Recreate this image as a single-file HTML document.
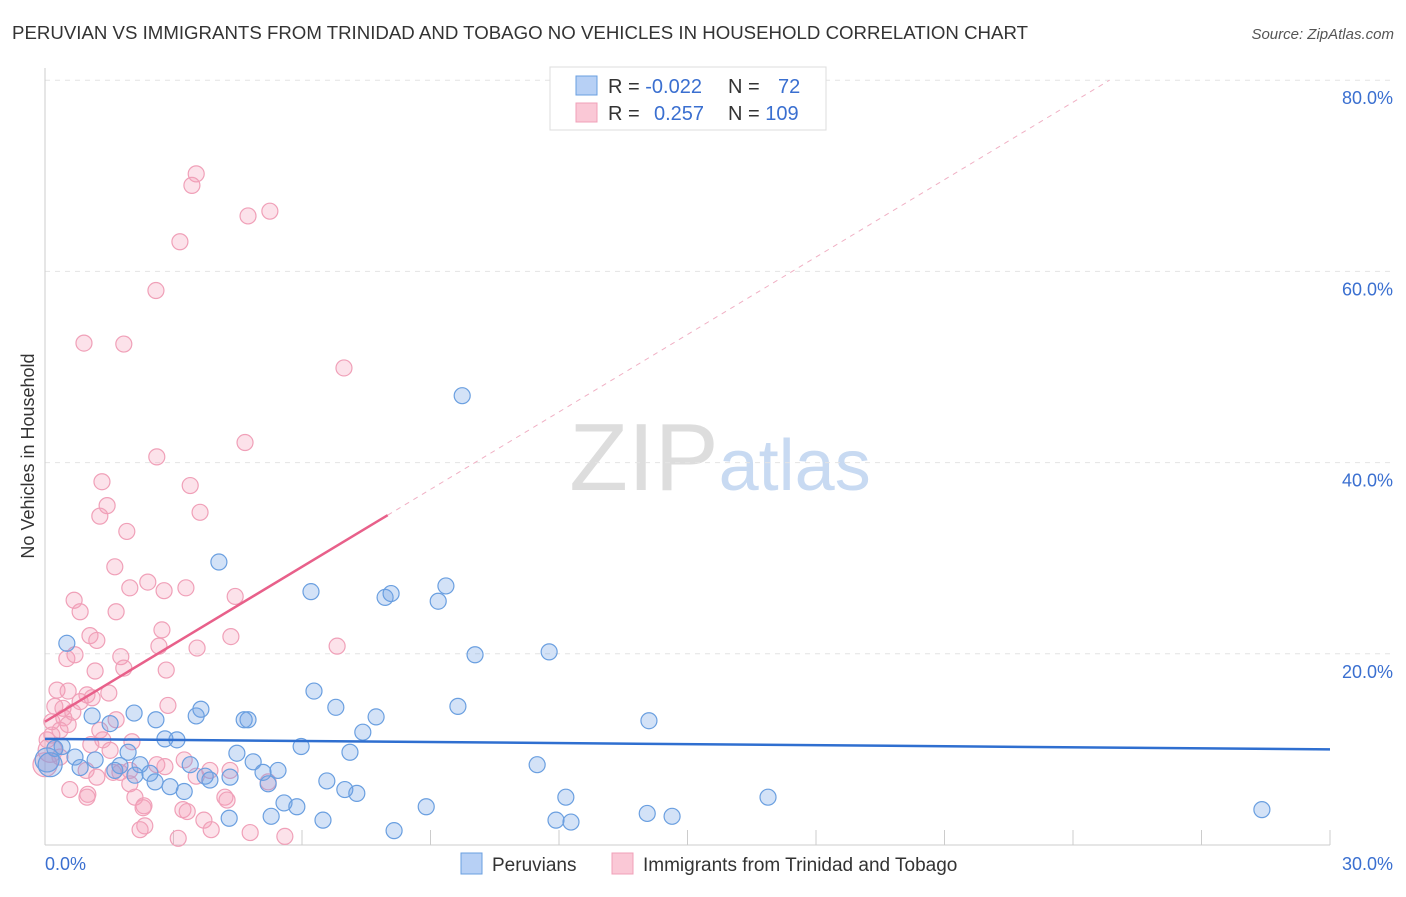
<!DOCTYPE html>
<html><head><meta charset="utf-8"><style>
body{margin:0;background:#fff;font-family:"Liberation Sans",sans-serif}
svg text{font-family:"Liberation Sans",sans-serif}
</style></head><body>
<svg id="chart" width="1406" height="892" xmlns="http://www.w3.org/2000/svg">
<text x="12" y="39" font-size="18.6" fill="#333" textLength="1016" lengthAdjust="spacingAndGlyphs">PERUVIAN VS IMMIGRANTS FROM TRINIDAD AND TOBAGO NO VEHICLES IN HOUSEHOLD CORRELATION CHART</text>
<text x="1394" y="39" font-size="15" fill="#555" font-style="italic" text-anchor="end">Source: ZipAtlas.com</text>
<text transform="translate(34,456) rotate(-90)" font-size="18" fill="#333" text-anchor="middle">No Vehicles in Household</text>
<text x="720" y="490" font-size="96" text-anchor="middle" fill="#ddd" font-family="Liberation Serif">ZIP<tspan fill="#c8daf2" font-family="Liberation Sans" font-size="72">atlas</tspan></text>
<g id="grid"></g><g id="axes"></g><g id="marks"></g>
<g>
<rect x="550" y="67" width="276" height="63" fill="#fff" stroke="#ddd"/>
<rect x="576" y="76" width="21" height="19" fill="#b7d0f5" stroke="#6a9fe0"/>
<rect x="576" y="103" width="21" height="19" fill="#fac8d6" stroke="#f0a0b8"/>
<text x="608" y="93" font-size="20" fill="#333">R = <tspan fill="#3a6fd0">-0.022</tspan></text>
<text x="728" y="93" font-size="20" fill="#333">N = <tspan fill="#3a6fd0" x="778">72</tspan></text>
<text x="608" y="120" font-size="20" fill="#333">R = <tspan fill="#3a6fd0" x="654">0.257</tspan></text>
<text x="728" y="120" font-size="20" fill="#333">N = <tspan fill="#3a6fd0">109</tspan></text>
</g>
<g>
<rect x="461" y="853" width="21" height="21" fill="#b7d0f5" stroke="#6a9fe0"/>
<text x="492" y="871" font-size="19" fill="#333">Peruvians</text>
<rect x="612" y="853" width="21" height="21" fill="#fac8d6" stroke="#f0a0b8"/>
<text x="643" y="871" font-size="19" fill="#333">Immigrants from Trinidad and Tobago</text>
</g>
</svg>
<script>
const xTicks=[3,6,9,12,15,18,21,24,27,30];
const yTicks=[20,40,60,80];
const yTickLabels=["20.0%","40.0%","60.0%","80.0%"];
const blueX=[9.74,4.06,6.21,7.94,8.08,9.36,9.18,10.04,11.77,0.51,6.28,6.79,7.73,9.64,14.10,3.64,3.53,2.59,2.08,4.74,4.65,1.10,1.52,2.80,3.08,5.98,7.12,7.42,4.48,1.94,0.23,0.40,0.70,0.82,1.17,1.75,2.22,2.45,2.10,3.39,3.74,4.32,4.86,5.09,5.44,5.21,6.58,7.00,7.28,11.49,12.16,16.88,8.90,5.58,5.88,6.49,5.28,4.30,3.25,2.92,8.15,11.93,12.28,14.06,14.64,28.41,0.05,0.12,3.85,2.57,1.63];
const blueY=[47.0,29.6,26.5,25.9,26.3,27.1,25.5,19.9,20.2,21.1,16.1,14.4,13.4,14.5,13.0,14.2,13.5,13.1,13.8,13.1,13.1,13.5,12.7,11.1,11.0,10.3,9.7,11.8,9.6,9.7,10.1,10.3,9.2,8.1,8.9,8.3,8.4,7.5,7.3,8.4,7.2,7.1,8.7,7.6,7.8,6.4,6.7,5.8,5.4,8.4,5.0,5.0,4.0,4.4,4.0,2.6,3.0,2.8,5.6,6.1,1.5,2.6,2.4,3.3,3.0,3.7,8.9,8.4,6.8,6.6,7.8];
const pinkX=[3.53,3.43,3.15,4.74,5.25,2.59,0.91,1.84,6.98,4.67,2.61,1.33,1.45,1.28,1.91,3.39,3.62,1.63,2.40,1.98,2.78,3.29,4.44,0.68,0.82,1.66,2.73,4.34,6.82,1.05,1.21,2.66,3.55,0.51,0.70,1.77,2.83,1.84,1.17,0.28,0.54,0.98,1.10,0.82,1.49,2.87,0.23,0.42,0.65,0.16,0.44,0.54,1.28,1.66,2.03,1.07,1.35,0.05,0.12,0.35,0.0,0.96,1.21,1.75,1.98,1.59,2.61,3.25,3.53,3.85,0.58,1.00,0.98,1.98,2.10,2.31,2.29,3.22,3.32,3.71,3.88,4.20,4.25,4.79,5.21,5.60,2.33,2.22,3.11,4.32,2.80,1.52,0.35,0.16];
const pinkY=[70.2,69.0,63.1,65.8,66.3,58.0,52.5,52.4,49.9,42.1,40.6,38.0,35.5,34.4,32.8,37.6,34.8,29.1,27.5,26.9,26.6,26.9,26.0,25.6,24.4,24.4,22.5,21.8,20.8,21.9,21.4,20.8,20.6,19.5,19.9,19.7,18.3,18.5,18.2,16.2,16.1,15.7,15.4,15.0,15.9,14.6,14.5,14.3,13.9,12.9,13.3,12.6,12.0,13.1,10.8,10.5,11.0,11.0,9.9,9.2,8.4,7.8,7.1,7.6,7.8,7.6,8.4,8.9,7.2,7.8,5.8,5.3,5.0,6.4,5.0,4.1,3.9,3.7,3.5,2.6,1.6,5.0,4.7,1.3,6.6,0.9,2.0,1.6,0.7,7.8,8.2,9.9,12.0,11.5];
const blueTrend=[11.1,10.0];
const pinkTrend=[12.9,2.7];
const NS="http://www.w3.org/2000/svg";
const sx=v=>45+v*(1330-45)/30, sy=v=>845-v*9.56;
function mk(p,t,a){const e=document.createElementNS(NS,t);for(const k in a)e.setAttribute(k,a[k]);document.getElementById(p).appendChild(e);return e;}
yTicks.forEach((t,i)=>{
 const g=mk('grid','line',{x1:45,x2:1394,y1:sy(t),y2:sy(t),stroke:'#e4e4e4','stroke-dasharray':'5,5'});
 
 
 const l=mk('axes','text',{x:1393,y:sy(t)+24,'font-size':18,fill:'#3a6fd0','text-anchor':'end'});l.textContent=yTickLabels[i];
 
 
});
mk('axes','line',{x1:45,x2:45,y1:68,y2:845,stroke:'#ccc'});
mk('axes','line',{x1:45,x2:1330,y1:845,y2:845,stroke:'#ccc'});
xTicks.forEach(t=>{const e=mk('axes','line',{x1:sx(t),x2:sx(t),y1:830,y2:845,stroke:'#ccc'});
 
 });
const x0=mk('axes','text',{x:45,y:870,'font-size':18,fill:'#3a6fd0'});x0.textContent='0.0%';


const x1=mk('axes','text',{x:1393,y:870,'font-size':18,fill:'#3a6fd0','text-anchor':'end'});x1.textContent='30.0%';


function pts(X,Y,fill,stroke,name){X.forEach((x,i)=>{const r=(x<0.2&&Y[i]<11)?12:8;
 const c=mk('marks','circle',{cx:sx(x),cy:sy(Y[i]),r:r,fill:fill,stroke:stroke,'stroke-width':1.2});
 
 });}
pts(pinkX,pinkY,'rgba(245,160,185,0.3)','#f0a0b8','pink-point');
pts(blueX,blueY,'rgba(110,160,230,0.3)','#6a9fe0','blue-point');
const pEnd=(80-pinkTrend[0])/pinkTrend[1];
const pd=mk('marks','line',{x1:sx(8),y1:sy(pinkTrend[0]+8*pinkTrend[1]),x2:sx(pEnd),y2:sy(80),stroke:'#f0b0c4','stroke-dasharray':'5,5'});


const ps=mk('marks','line',{x1:sx(0),y1:sy(pinkTrend[0]),x2:sx(8),y2:sy(pinkTrend[0]+8*pinkTrend[1]),stroke:'#e8608a','stroke-width':2.5});


const bl=mk('marks','line',{x1:sx(0),y1:sy(blueTrend[0]),x2:sx(30),y2:sy(blueTrend[1]),stroke:'#2f6fd0','stroke-width':2.5});


</script>
</body></html>
